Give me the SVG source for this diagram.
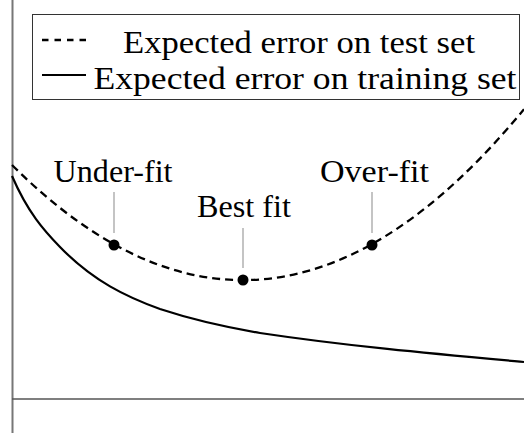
<svg xmlns="http://www.w3.org/2000/svg" width="524" height="433" viewBox="0 0 524 433">
<style>
text{font-family:'Liberation Serif','Times New Roman',serif;font-size:32px;fill:#000}
.lead{stroke:#b0b0b0;stroke-width:1.5;fill:none}
.dash{stroke:#000;stroke-width:2.3;fill:none;stroke-dasharray:8 5}
.solid{stroke:#000;stroke-width:2.2;fill:none}
.dot{fill:#000}
</style>
<rect width="524" height="433" fill="#fff"/>
<g id="axes">
<line x1="12.5" y1="0" x2="12.5" y2="433" stroke="#777" stroke-width="2"/>
<line x1="12" y1="399" x2="524" y2="399" stroke="#555" stroke-width="1.5"/>
</g>
<g id="curves">
<path class="dash" d="M12,165 Q268,420.4 524,109.2"/>
<path class="solid" d="M12,176 C28,212.8 44,230.5 60,247 C93.3,281.3 126.7,297 160,309 C193.3,320 226.7,327.3 260,333 C348,346.2 436,354 524,362"/>
</g>
<g id="legend">
<rect x="32.5" y="14.5" width="487" height="85" fill="#fff" stroke="#333" stroke-width="1"/>
<line class="dash" x1="42" y1="40" x2="87" y2="40" style="stroke-dasharray:6.5 6"/>
<line class="solid" x1="42" y1="75" x2="86" y2="75"/>
<text x="123" y="53" textLength="352" lengthAdjust="spacingAndGlyphs">Expected error on test set</text>
<text x="93.5" y="88.5" textLength="423" lengthAdjust="spacingAndGlyphs">Expected error on training set</text>
</g>
<g id="under-fit">
<line class="lead" x1="114" y1="192" x2="114" y2="233"/>
<circle class="dot" cx="114" cy="245" r="5.5"/>
<text x="113" y="182" text-anchor="middle" textLength="119" lengthAdjust="spacingAndGlyphs">Under-fit</text>
</g>
<g id="best-fit">
<line class="lead" x1="243" y1="228" x2="243" y2="268"/>
<circle class="dot" cx="243" cy="280" r="5.5"/>
<text x="244" y="216.5" text-anchor="middle" textLength="94" lengthAdjust="spacingAndGlyphs">Best fit</text>
</g>
<g id="over-fit">
<line class="lead" x1="372" y1="192" x2="372" y2="233"/>
<circle class="dot" cx="372" cy="245" r="5.5"/>
<text x="374.5" y="182" text-anchor="middle" textLength="109" lengthAdjust="spacingAndGlyphs">Over-fit</text>
</g>
</svg>
